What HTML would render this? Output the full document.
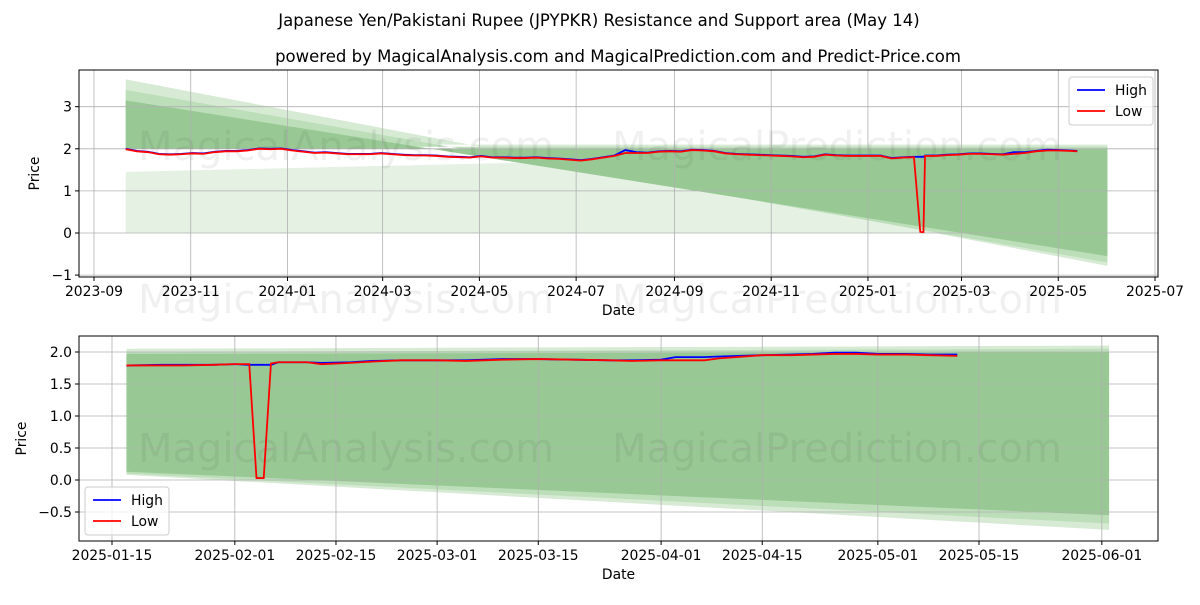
<!DOCTYPE html>
<html><head><meta charset="utf-8"><style>
body{margin:0;background:#fff;}
svg text{font-family:"DejaVu Sans","Liberation Sans",sans-serif;fill:#000;}
</style></head><body>
<svg id="c" width="1200" height="600" viewBox="0 0 1200 600" xmlns="http://www.w3.org/2000/svg">
<rect width="1200" height="600" fill="#fff"/>
<text x="599" y="26" font-size="16.5" text-anchor="middle">Japanese Yen/Pakistani Rupee (JPYPKR) Resistance and Support area (May 14)</text>
<text x="618" y="62" font-size="16.5" text-anchor="middle">powered by MagicalAnalysis.com and MagicalPrediction.com and Predict-Price.com</text>
<g id="top"></g>
<g id="bot"></g>
</svg>
<script>
// ---- top chart data ----
const topDates = ["2023-09-21","2023-09-28","2023-10-05","2023-10-12","2023-10-19","2023-10-26","2023-11-02","2023-11-09","2023-11-16","2023-11-23","2023-11-30","2023-12-07","2023-12-14","2023-12-21","2023-12-28","2024-01-04","2024-01-11","2024-01-18","2024-01-25","2024-02-01","2024-02-08","2024-02-15","2024-02-22","2024-02-29","2024-03-07","2024-03-14","2024-03-21","2024-03-28","2024-04-04","2024-04-11","2024-04-18","2024-04-25","2024-05-02","2024-05-09","2024-05-16","2024-05-23","2024-05-30","2024-06-06","2024-06-13","2024-06-20","2024-06-27","2024-07-04","2024-07-11","2024-07-18","2024-07-25","2024-08-01","2024-08-08","2024-08-15","2024-08-22","2024-08-29","2024-09-05","2024-09-12","2024-09-19","2024-09-26","2024-10-03","2024-10-10","2024-10-17","2024-10-24","2024-10-31","2024-11-07","2024-11-14","2024-11-21","2024-11-28","2024-12-05","2024-12-12","2024-12-19","2024-12-26","2025-01-02","2025-01-09","2025-01-16","2025-01-23","2025-01-30","2025-02-03","2025-02-04","2025-02-05","2025-02-06","2025-02-13","2025-02-20","2025-02-27","2025-03-06","2025-03-13","2025-03-20","2025-03-27","2025-04-03","2025-04-10","2025-04-17","2025-04-24","2025-05-01","2025-05-08","2025-05-13"];
const topHigh = [2.00,1.95,1.93,1.88,1.87,1.88,1.90,1.89,1.93,1.95,1.95,1.97,2.01,2.00,2.01,1.97,1.94,1.91,1.92,1.90,1.88,1.88,1.88,1.90,1.88,1.86,1.85,1.85,1.84,1.82,1.81,1.80,1.83,1.80,1.80,1.79,1.79,1.80,1.78,1.77,1.75,1.73,1.76,1.80,1.84,1.97,1.92,1.91,1.94,1.95,1.94,1.98,1.97,1.95,1.90,1.88,1.87,1.86,1.85,1.84,1.83,1.81,1.82,1.87,1.85,1.84,1.84,1.84,1.84,1.78,1.80,1.81,1.81,1.81,1.81,1.84,1.84,1.86,1.87,1.89,1.89,1.88,1.87,1.92,1.92,1.95,1.98,1.97,1.96,1.95];
const topLow  = [1.99,1.94,1.92,1.87,1.86,1.87,1.89,1.88,1.92,1.94,1.94,1.96,2.00,1.99,2.00,1.96,1.93,1.90,1.91,1.89,1.87,1.87,1.87,1.89,1.87,1.85,1.84,1.84,1.83,1.81,1.80,1.79,1.82,1.79,1.79,1.78,1.78,1.79,1.77,1.76,1.74,1.72,1.75,1.79,1.83,1.90,1.90,1.90,1.93,1.94,1.93,1.97,1.96,1.94,1.89,1.87,1.86,1.85,1.84,1.83,1.82,1.80,1.81,1.86,1.84,1.83,1.83,1.83,1.83,1.77,1.79,1.80,0.03,0.02,0.02,1.83,1.83,1.85,1.86,1.88,1.88,1.87,1.86,1.88,1.90,1.94,1.96,1.96,1.95,1.94];
const topTicks = ["2023-09","2023-11","2024-01","2024-03","2024-05","2024-07","2024-09","2024-11","2025-01","2025-03","2025-05","2025-07"];
const topYTicks = [-1,0,1,2,3];
// bands: [start, end, top0, top1, bot0, bot1, colour]
const topBands = [
 ["2023-09-21","2025-02-10",1.45,1.90,0,0,"#e4f1e3"],
 ["2023-09-21","2025-06-01",2.10,2.10,3.65,-0.78,"#d6ead4"],
 ["2023-09-21","2025-06-01",2.05,2.05,3.40,-0.70,"#bcdeb9"],
 ["2023-09-21","2025-06-01",2.00,2.00,3.15,-0.55,"#98c994"]
];
// ---- bottom chart data ----
const botDates = ["2025-01-17","2025-01-22","2025-01-25","2025-01-29","2025-02-01","2025-02-03","2025-02-04","2025-02-05","2025-02-06","2025-02-07","2025-02-11","2025-02-13","2025-02-17","2025-02-20","2025-02-24","2025-03-01","2025-03-05","2025-03-10","2025-03-15","2025-03-20","2025-03-25","2025-03-28","2025-04-01","2025-04-03","2025-04-07","2025-04-09","2025-04-15","2025-04-19","2025-04-22","2025-04-25","2025-04-28","2025-05-01","2025-05-05","2025-05-08","2025-05-12"];
const botHigh = [1.79,1.80,1.80,1.80,1.81,1.80,1.80,1.80,1.80,1.84,1.84,1.83,1.84,1.86,1.87,1.87,1.87,1.89,1.89,1.88,1.87,1.87,1.88,1.92,1.92,1.93,1.95,1.96,1.97,1.99,1.99,1.97,1.97,1.96,1.96];
const botLow  = [1.79,1.79,1.79,1.80,1.81,1.81,0.03,0.03,1.82,1.84,1.84,1.81,1.83,1.85,1.87,1.87,1.86,1.88,1.89,1.88,1.87,1.86,1.87,1.87,1.87,1.90,1.95,1.95,1.96,1.97,1.97,1.96,1.96,1.95,1.94];
const botTicks = ["2025-01-15","2025-02-01","2025-02-15","2025-03-01","2025-03-15","2025-04-01","2025-04-15","2025-05-01","2025-05-15","2025-06-01"];
const botYTicks = [-0.5,0,0.5,1,1.5,2];
const botYLabels = ["\u22120.5","0.0","0.5","1.0","1.5","2.0"];
const botBands = [
 ["2025-01-17","2025-06-02",2.05,2.10,0.08,-0.78,"#d6ead4"],
 ["2025-01-17","2025-06-02",2.00,2.05,0.10,-0.68,"#bcdeb9"],
 ["2025-01-17","2025-06-02",1.97,2.00,0.13,-0.55,"#98c994"]
];

const NS="http://www.w3.org/2000/svg";
const day=s=>Date.parse(s+"T00:00:00Z")/864e5;
function mk(tag,attrs,parent){const e=document.createElementNS(NS,tag);for(const k in attrs)e.setAttribute(k,attrs[k]);parent.appendChild(e);return e;}

function panel(g,o){
 const L=79,R=1158,T=o.T,B=o.B;
 const X=d=>o.x0+(day(d)-day(o.d0))*o.k;
 const Y=v=>o.y0-v*o.ky;
 o.bands.forEach(b=>{
  const p=mk("polygon",{points:[X(b[0])+","+Y(b[2]),X(b[1])+","+Y(b[3]),X(b[1])+","+Y(b[5]),X(b[0])+","+Y(b[4])].join(" "),fill:b[6]},g);
  
  
 });
 o.ticks.forEach(t=>{const x=X(t.length==7?t+"-01":t);
  const l=mk("line",{x1:x,x2:x,y1:T,y2:B,stroke:"#b0b0b0","stroke-width":0.8},g);
  
  
  const tk=mk("line",{x1:x,x2:x,y1:B,y2:B+4,stroke:"#000"},g);
  
  
  const tx=mk("text",{x:x,y:B+19,"font-size":13.9,"text-anchor":"middle"},g);tx.textContent=t;
  
  
 });
 o.yticks.forEach((v,i)=>{const y=Y(v);
  const l=mk("line",{x1:L,x2:R,y1:y,y2:y,stroke:"#b0b0b0","stroke-width":0.8},g);
  
  
  const tk=mk("line",{x1:L-4,x2:L,y1:y,y2:y,stroke:"#000"},g);
  
  
  const tx=mk("text",{x:L-7,y:y+5,"font-size":13.9,"text-anchor":"end"},g);tx.textContent=o.ylabels?o.ylabels[i]:(v<0?"\u2212"+(-v):String(v));
  
  
 });
 const wm=[["MagicalAnalysis.com",346],["MagicalPrediction.com",837]];
 const wmYs=[o.wmY].concat(o.wm2?[o.wm2]:[]);
 wmYs.forEach(wy=>wm.forEach(w=>{const t=mk("text",{x:w[1],y:wy,"font-size":40,"text-anchor":"middle"},g);t.textContent=w[0];
  t.style.fill="rgba(0,0,0,0.06)";
  
  }));
 const hp=mk("polyline",{points:o.dates.map((d,i)=>X(d)+","+Y(o.high[i])).join(" "),fill:"none",stroke:"#0000ff","stroke-width":1.8},g);
 
 
 const lp=mk("polyline",{points:o.dates.map((d,i)=>X(d)+","+Y(o.low[i])).join(" "),fill:"none",stroke:"#ff0000","stroke-width":1.8},g);
 
 
 const fr=mk("rect",{x:L,y:T,width:R-L,height:B-T,fill:"none",stroke:"#000","stroke-width":1},g);
 
 
 const xl=mk("text",{x:(L+R)/2,y:B+38,"font-size":13.9,"text-anchor":"middle"},g);xl.textContent="Date";
 
 
 const yl=mk("text",{x:0,y:0,"font-size":13.9,"text-anchor":"middle",transform:`translate(${o.ylx},${(T+B)/2}) rotate(-90)`},g);yl.textContent="Price";
 
 
 const lg=mk("g",{},g);
 
 
 mk("rect",{x:o.lx,y:o.ly,width:84,height:48,rx:3,fill:"#fff","fill-opacity":0.8,stroke:"#ccc"},lg);
 [["High","#0000ff"],["Low","#ff0000"]].forEach((e,i)=>{const yy=o.ly+13+i*21;
  const li=mk("line",{x1:o.lx+8,x2:o.lx+36,y1:yy,y2:yy,stroke:e[1],"stroke-width":1.8},lg);
  
  
  const t=mk("text",{x:o.lx+46,y:yy+5,"font-size":13.9},lg);t.textContent=e[0];
  
  });
}
panel(document.getElementById("top"),{T:70,B:277,x0:94,d0:"2023-09-01",k:(1155-94)/669,y0:233,ky:42.1,ticks:topTicks,yticks:topYTicks,bands:topBands,dates:topDates,high:topHigh,low:topLow,wmY:160,wm2:313,ylx:39,lx:1069,ly:77});
panel(document.getElementById("bot"),{T:336,B:541,x0:112,d0:"2025-01-15",k:7.225,y0:480,ky:64,ticks:botTicks,yticks:botYTicks,ylabels:botYLabels,bands:botBands,dates:botDates,high:botHigh,low:botLow,wmY:462,ylx:26,lx:85,ly:487});
</script>
</body></html>
